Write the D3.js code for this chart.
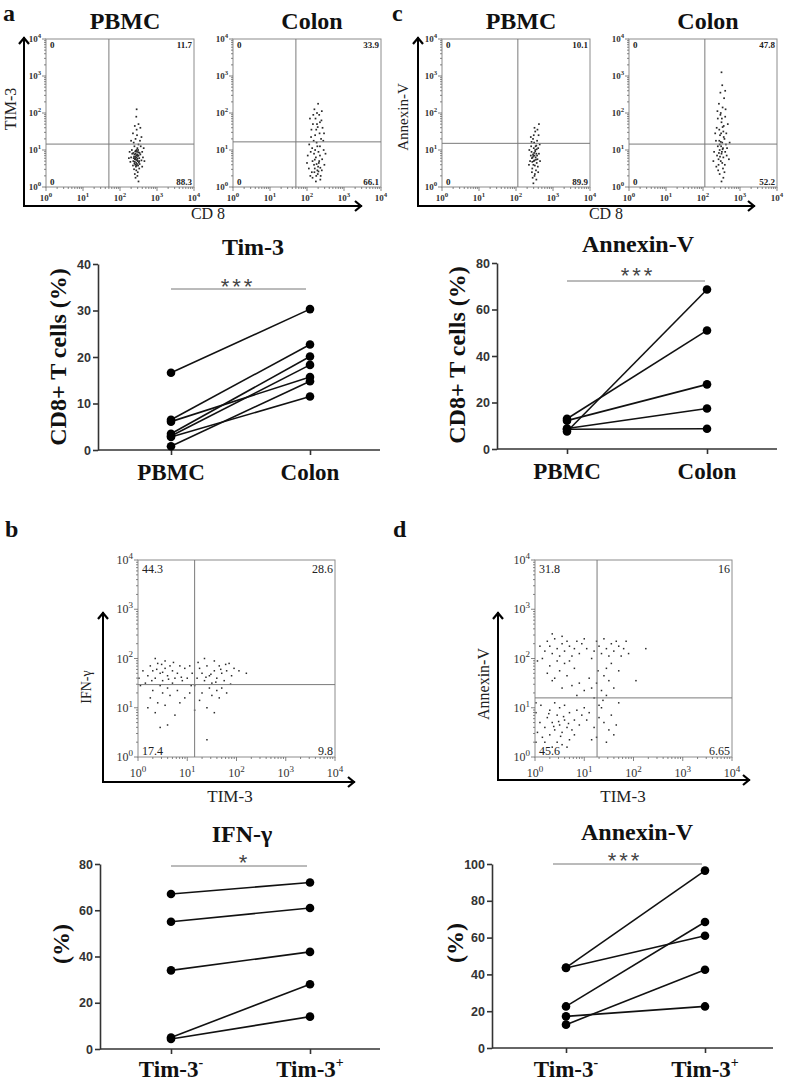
<!DOCTYPE html>
<html><head><meta charset="utf-8">
<script src="https://cdn.jsdelivr.net/npm/d3@7"></script>
<style>body{margin:0;background:#fff}svg{display:block}</style>
</head><body>
<svg id="fig" width="787" height="1081"></svg>
<script>
// ---------------- DATA ----------------
const flowExps = [0, 1, 2, 3, 4];

// flow events, in log10 units [x, y]
const eventsA_PBMC = [[2.45,0.80],[2.40,0.75],[2.50,0.85],[2.42,0.90],[2.48,0.70],[2.38,0.82],[2.52,0.78],[2.44,0.65],[2.46,0.95],[2.36,0.70],[2.55,0.88],[2.41,0.60],[2.49,1.00],[2.33,0.90],[2.58,0.72],[2.43,0.55],[2.47,1.05],[2.39,1.10],[2.53,0.62],[2.35,0.58],[2.60,0.95],[2.30,0.80],[2.44,0.45],[2.50,1.15],[2.37,1.20],[2.56,1.10],[2.42,1.30],[2.48,0.40],[2.32,1.00],[2.62,0.80],[2.28,0.68],[2.46,1.40],[2.40,0.35],[2.54,1.25],[2.45,1.55],[2.35,1.45],[2.58,1.35],[2.52,0.50],[2.38,0.48],[2.64,1.05],[2.26,0.95],[2.50,1.70],[2.42,0.25],[2.47,0.30],[2.60,0.55],[2.30,1.25],[2.55,1.60],[2.40,1.65],[2.44,1.90],[2.66,0.70],[2.24,0.78],[2.50,0.15],[2.45,2.10],[2.36,0.92],[2.48,0.84],[2.43,0.74],[2.51,0.66],[2.39,0.88],[2.46,0.62],[2.41,0.96],[2.44,0.86],[2.47,0.76],[2.40,0.68],[2.53,0.92],[2.37,0.78],[2.49,0.58],[2.45,1.00],[2.42,0.82],[2.46,0.72],[2.50,0.94],[2.43,0.98],[2.39,0.64],[2.52,0.70],[2.47,0.88],[2.41,0.78],[2.45,0.58]];
const eventsA_Colon = [[2.20,0.40],[2.30,0.55],[2.15,0.70],[2.35,0.85],[2.25,0.30],[2.10,0.95],[2.40,0.45],[2.28,1.10],[2.18,1.25],[2.32,0.65],[2.05,0.50],[2.45,1.00],[2.22,1.40],[2.38,1.30],[2.12,1.55],[2.27,1.70],[2.42,1.60],[2.08,1.85],[2.33,1.95],[2.20,2.10],[2.30,2.25],[2.15,0.25],[2.36,0.20],[2.24,0.80],[2.19,0.60],[2.29,0.35],[2.41,0.75],[2.02,0.85],[2.47,0.60],[2.26,1.20],[2.14,1.05],[2.34,1.45],[2.23,1.85],[2.39,1.80],[2.11,1.35],[2.31,0.95],[2.21,0.50],[2.44,1.25],[2.06,1.15],[2.17,1.95],[2.27,2.00],[2.35,1.10],[2.25,1.55],[2.13,0.40],[2.37,0.30],[2.50,0.90],[2.00,0.65],[2.29,1.62],[2.19,0.90],[2.33,0.70],[2.24,0.15],[2.40,2.05],[2.16,1.70],[2.46,1.45],[2.09,0.30],[2.28,0.45],[2.22,1.00],[2.35,1.75],[2.26,0.62],[2.31,0.42],[2.21,0.74],[2.36,0.52]];
const eventsC_PBMC = [[2.50,0.85],[2.45,0.80],[2.55,0.90],[2.48,0.70],[2.52,1.00],[2.42,0.95],[2.58,0.75],[2.47,0.60],[2.53,1.10],[2.40,0.85],[2.60,1.05],[2.44,0.50],[2.56,0.65],[2.49,1.20],[2.38,0.70],[2.62,0.90],[2.46,1.30],[2.54,0.45],[2.41,1.10],[2.57,1.25],[2.51,0.35],[2.43,0.40],[2.59,0.55],[2.48,1.40],[2.36,1.00],[2.64,1.15],[2.52,1.50],[2.45,0.25],[2.55,0.20],[2.40,1.35],[2.61,1.40],[2.50,1.60],[2.47,0.10],[2.65,0.70],[2.35,0.60],[2.53,0.80],[2.49,0.92],[2.44,0.68],[2.56,1.02],[2.51,0.58],[2.58,1.55],[2.62,1.70],[2.46,0.88],[2.54,0.74],[2.42,1.22],[2.50,0.30],[2.57,0.85],[2.43,0.78],[2.60,0.40],[2.48,1.05],[2.52,0.96],[2.47,0.84],[2.55,1.12],[2.50,0.72]];
const eventsC_Colon = [[2.50,0.90],[2.45,1.00],[2.55,0.80],[2.40,1.10],[2.60,0.95],[2.48,0.70],[2.52,1.20],[2.42,0.60],[2.58,1.30],[2.46,1.40],[2.54,0.50],[2.38,0.85],[2.62,1.15],[2.44,1.55],[2.56,1.65],[2.50,1.75],[2.40,1.85],[2.60,1.90],[2.48,2.00],[2.53,2.15],[2.43,2.25],[2.57,2.40],[2.47,2.55],[2.52,2.75],[2.35,1.25],[2.65,1.05],[2.30,0.95],[2.70,0.75],[2.45,0.35],[2.55,0.25],[2.50,0.15],[2.41,0.45],[2.59,0.60],[2.37,1.60],[2.63,1.45],[2.49,1.10],[2.51,0.95],[2.46,0.82],[2.54,1.05],[2.44,1.25],[2.56,1.35],[2.39,2.05],[2.61,2.10],[2.33,1.45],[2.67,1.70],[2.49,1.45],[2.52,0.65],[2.58,0.40],[2.42,0.75],[2.47,1.95],[2.53,1.62],[2.28,0.70],[2.72,1.20],[2.50,3.10],[2.60,2.60],[2.45,1.15],[2.55,1.50],[2.36,0.55],[2.64,0.85],[2.51,1.85],[2.48,1.22],[2.53,1.02],[2.43,0.92]];
const eventsB = [[0.30,1.75],[0.45,1.70],[0.55,1.80],[0.35,1.60],[0.60,1.65],[0.25,1.85],[0.50,1.55],[0.70,1.75],[0.40,1.90],[0.65,1.85],[0.20,1.65],[0.80,1.70],[0.75,1.60],[0.15,1.50],[0.85,1.85],[0.45,1.45],[0.55,1.95],[0.90,1.55],[0.10,1.75],[0.35,2.00],[0.95,1.80],[0.60,1.40],[0.30,1.35],[0.70,1.50],[0.50,1.30],[0.05,1.45],[0.25,1.20],[0.40,1.10],[0.65,1.25],[0.80,1.35],[0.55,1.05],[0.35,0.90],[0.75,0.85],[0.60,0.65],[0.45,0.60],[0.85,1.10],[0.20,1.00],[0.95,1.20],[0.50,1.72],[0.38,1.78],[0.62,1.58],[0.72,1.92],[0.28,1.55],[0.48,1.88],[0.02,1.60],[0.88,1.62],
  [1.30,1.70],[1.45,1.65],[1.55,1.75],[1.35,1.55],[1.60,1.60],[1.25,1.80],[1.50,1.50],[1.70,1.70],[1.40,1.85],[1.65,1.85],[1.20,1.60],[1.80,1.75],[1.75,1.55],[1.15,1.45],[1.85,1.90],[1.45,1.40],[1.55,1.95],[1.90,1.65],[1.10,1.70],[1.35,2.00],[1.95,1.80],[1.60,1.35],[1.30,1.30],[1.70,1.40],[2.05,1.75],[1.50,1.25],[1.25,1.15],[1.40,1.00],[1.65,1.20],[1.80,1.30],[1.55,0.90],[1.15,0.95],[1.05,1.30],[1.40,0.35],[1.48,1.68],[1.58,1.52],[1.68,1.78],[1.38,1.62],[1.78,1.88],[2.20,1.70],[1.22,1.92],[1.88,1.48],[1.00,1.60],[1.05,1.85],[1.08,1.45]];
const eventsD = [[0.30,2.25],[0.45,2.20],[0.55,2.30],[0.35,2.10],[0.60,2.15],[0.25,2.35],[0.50,2.05],[0.70,2.25],[0.40,2.40],[0.65,2.35],[0.20,2.15],[0.80,2.20],[0.75,2.05],[0.15,2.00],[0.85,2.35],[0.45,1.95],[0.55,2.45],[0.90,2.10],[0.10,2.25],[0.35,2.50],[0.95,2.30],[0.60,1.90],[0.30,1.85],[0.70,1.95],[0.50,1.75],[0.05,1.95],[0.25,1.70],[0.40,1.60],[0.65,1.65],[0.80,1.80],[1.00,2.40],[1.05,2.20],
  [1.30,2.25],[1.45,2.20],[1.55,2.30],[1.35,2.10],[1.60,2.15],[1.25,2.35],[1.50,2.05],[1.70,2.25],[1.40,2.40],[1.65,2.35],[1.20,2.15],[1.80,2.20],[1.75,2.05],[1.85,2.35],[1.55,1.90],[1.90,2.10],[1.15,2.00],[2.25,2.20],[1.45,1.80],[1.70,1.75],
  [1.25,1.50],[1.35,1.35],[1.20,1.20],[1.40,1.65],[1.30,1.05],[1.45,1.25],[1.15,1.40],[1.50,1.55],[1.28,1.75],[1.38,1.15],[0.90,1.50],[1.00,1.35],[0.75,1.45],[1.60,1.40],[1.10,1.60],[1.70,1.10],[2.05,1.55],[0.55,1.40],[0.35,1.55],[0.85,1.25],
  [0.50,0.65],[0.40,0.55],[0.60,0.75],[0.45,0.85],[0.55,0.50],[0.35,0.70],[0.65,0.60],[0.30,0.45],[0.70,0.90],[0.25,0.80],[0.75,0.55],[0.20,0.60],[0.80,0.75],[0.15,0.40],[0.85,0.95],[0.50,1.00],[0.60,1.05],[0.40,1.10],[0.30,0.95],[0.70,0.35],[0.10,0.70],[0.05,0.50],[0.90,0.65],[0.95,0.85],[1.00,1.00],[0.45,0.30],[0.55,0.25],[0.35,0.20],[0.20,0.30],[0.65,0.20],[1.05,0.75],[1.10,0.90],[1.20,0.60],[1.30,0.80],[1.40,0.70],[1.50,0.55],[1.60,0.45],[1.25,0.40],[1.35,1.00],[1.15,0.35],[1.45,0.30],[1.55,0.85],[0.02,0.90],[0.02,1.10],[0.02,0.30],[0.80,0.45],[0.58,0.82],[0.48,0.72],[0.38,0.62],[0.68,0.68],[0.28,0.88],[0.52,0.42],[1.65,0.65],[0.12,1.05]];

// gates [x, y] in log10 units
const gateA_PBMC = [1.7, 1.16];
const gateA_Colon = [1.7, 1.22];
const gateC_PBMC = [2.05, 1.18];
const gateC_Colon = [2.05, 1.16];
const gateB = [1.15, 1.47];
const gateD = [1.26, 1.20];

// quadrant percentages: top-left, top-right, bottom-left, bottom-right
const quadA_PBMC = ["0", "11.7", "0", "88.3"];
const quadA_Colon = ["0", "33.9", "0", "66.1"];
const quadC_PBMC = ["0", "10.1", "0", "89.9"];
const quadC_Colon = ["0", "47.8", "0", "52.2"];
const quadB = ["44.3", "28.6", "17.4", "9.8"];
const quadD = ["31.8", "16", "45.6", "6.65"];

// paired plots
const tissueCats = ["PBMC", "Colon"];
const tim3PBMC = [16.6, 6.5, 6.1, 3.5, 3.0, 2.8, 0.8];
const tim3Colon = [30.3, 22.7, 15.7, 20.1, 18.3, 11.5, 14.8];
const tim3Ticks = [0, 10, 20, 30, 40];

const annexPBMC = [7.5, 13.0, 12.2, 8.8, 8.5];
const annexColon = [68.6, 51.0, 27.8, 17.4, 8.7];
const annexTicks = [0, 20, 40, 60, 80];

const stateCats = ["Tim-3\u207B", "Tim-3\u207A"];
const stateBase = ["Tim-3", "Tim-3"];
const stateSup = ["-", "+"];
const ifnNeg = [67, 55, 34, 5.0, 4.3];
const ifnPos = [72, 61, 42, 28, 14];
const ifnTicks = [0, 20, 40, 60, 80];
const annexNeg = [43.7, 43.5, 22.6, 12.7, 17.2];
const annexPos = [96.4, 61, 68.5, 42.5, 22.6];
const annexTicks2 = [0, 20, 40, 60, 80, 100];

// ---------------- DRAWING ----------------
const svg = d3.select("#fig");
const SERIF = "'Liberation Serif','Times New Roman',serif";
const SANS = "'Liberation Sans',Arial,sans-serif";

function supText(sel, base, sup, supSize, dy) {
  sel.append("tspan").text(base);
  sel.append("tspan").attr("font-size", supSize).attr("dy", dy).text(sup);
}

function flowPlot(o) {
  const g = svg.append("g");
  const x = d3.scaleLog().domain([1, 1e4]).range([o.x0, o.x0 + o.size]);
  const y = d3.scaleLog().domain([1, 1e4]).range([o.y0 + o.size, o.y0]);
  const tv = [];
  for (let e = 0; e < 4; e++) for (let k = 1; k < 10; k++) tv.push(k * Math.pow(10, e));
  tv.push(1e4);
  const isMajor = v => Math.abs(Math.log10(v) - Math.round(Math.log10(v))) < 1e-9;

  g.append("g").selectAll("rect").data(o.events).join("rect")
    .attr("x", d => x(Math.pow(10, d[0])) - o.dot / 2)
    .attr("y", d => y(Math.pow(10, d[1])) - o.dot / 2)
    .attr("width", o.dot).attr("height", o.dot).attr("fill", "#2a2a2a");

  g.append("rect").attr("x", o.x0).attr("y", o.y0).attr("width", o.size).attr("height", o.size)
    .attr("fill", "none").attr("stroke", "#8c8c8c").attr("stroke-width", 1);

  const gx = x(Math.pow(10, o.gate[0])), gy = y(Math.pow(10, o.gate[1]));
  g.append("line").attr("x1", gx).attr("x2", gx).attr("y1", o.y0).attr("y2", o.y0 + o.size)
    .attr("stroke", "#7a7a7a").attr("stroke-width", 1);
  g.append("line").attr("x1", o.x0).attr("x2", o.x0 + o.size).attr("y1", gy).attr("y2", gy)
    .attr("stroke", "#7a7a7a").attr("stroke-width", 1);

  g.append("g").selectAll("line").data(tv).join("line")
    .attr("x1", o.x0).attr("x2", d => o.x0 - (isMajor(d) ? o.tMaj : o.tMin))
    .attr("y1", d => y(d)).attr("y2", d => y(d))
    .attr("stroke", "#666").attr("stroke-width", 0.8);
  g.append("g").selectAll("line").data(tv).join("line")
    .attr("y1", o.y0 + o.size).attr("y2", d => o.y0 + o.size + (isMajor(d) ? o.tMaj : o.tMin))
    .attr("x1", d => x(d)).attr("x2", d => x(d))
    .attr("stroke", "#666").attr("stroke-width", 0.8);

  flowExps.forEach(e => {
    const v = Math.pow(10, e);
    const ty = g.append("text").attr("x", o.x0 - o.yGap).attr("y", y(v) + o.fs * 0.35)
      .attr("text-anchor", "end").attr("font-family", SERIF).attr("font-size", o.fs)
      .attr("font-weight", o.fw).attr("fill", "#333");
    supText(ty, "10", String(e), o.fs * 0.75, -o.fs * 0.45);
    const tx = g.append("text").attr("x", x(v)).attr("y", o.y0 + o.size + o.xGap)
      .attr("text-anchor", "middle").attr("font-family", SERIF).attr("font-size", o.fs)
      .attr("font-weight", o.fw).attr("fill", "#333");
    supText(tx, "10", String(e), o.fs * 0.75, -o.fs * 0.45);
  });

  const qpos = [
    [o.x0 + 4, o.y0 + o.qTop, "start"], [o.x0 + o.size - 2, o.y0 + o.qTop, "end"],
    [o.x0 + 4, o.y0 + o.size - 2, "start"], [o.x0 + o.size - 2, o.y0 + o.size - 2, "end"]
  ];
  o.quads.forEach((q, i) => {
    g.append("text").attr("x", qpos[i][0]).attr("y", qpos[i][1]).attr("text-anchor", qpos[i][2])
      .attr("font-family", SERIF).attr("font-size", o.qfs).attr("font-weight", o.qfw)
      .attr("fill", "#222").text(q);
  });

  if (o.title) {
    g.append("text").attr("x", o.x0 + o.size / 2 + 5).attr("y", 29).attr("text-anchor", "middle")
      .attr("font-family", SERIF).attr("font-size", 24).attr("font-weight", "bold").attr("fill", "#111")
      .text(o.title);
  }
}

function arrowAxes(ax, ay, topY, rightX, xLabel, xLabX, xLabY, xfs, yLabel, yLabX, yLabY, yfs, fw) {
  const p = d3.path();
  p.moveTo(ax, topY); p.lineTo(ax, ay); p.lineTo(rightX, ay);
  svg.append("path").attr("d", p.toString()).attr("fill", "none").attr("stroke", "#000").attr("stroke-width", 2);
  const h1 = d3.path();
  h1.moveTo(ax - 5, topY + 7); h1.lineTo(ax, topY + 1); h1.lineTo(ax + 5, topY + 7);
  svg.append("path").attr("d", h1.toString()).attr("fill", "none").attr("stroke", "#000").attr("stroke-width", 2.2);
  const h2 = d3.path();
  h2.moveTo(rightX - 7, ay - 5); h2.lineTo(rightX - 1, ay); h2.lineTo(rightX - 7, ay + 5);
  svg.append("path").attr("d", h2.toString()).attr("fill", "none").attr("stroke", "#000").attr("stroke-width", 2.2);
  svg.append("text").attr("x", xLabX).attr("y", xLabY).attr("text-anchor", "middle")
    .attr("font-family", SERIF).attr("font-size", xfs).attr("font-weight", fw).attr("fill", "#222").text(xLabel);
  svg.append("text").attr("transform", `translate(${yLabX},${yLabY}) rotate(-90)`)
    .attr("text-anchor", "middle").attr("dy", "0.35em")
    .attr("font-family", SERIF).attr("font-size", yfs).attr("font-weight", fw).attr("fill", "#222").text(yLabel);
}

function pairedPlot(o) {
  const g = svg.append("g");
  const y = d3.scaleLinear().domain([0, d3.max(o.ticks)]).range(o.yRange);
  const x = d3.scalePoint().domain(o.cats).range(o.catX);
  const ya = d3.axisLeft(y).tickValues(o.ticks).tickSize(5).tickSizeOuter(0).tickPadding(2);
  const ag = g.append("g").attr("transform", `translate(${o.xAxis[0]},0)`).call(ya);
  ag.select(".domain").attr("stroke", "#333").attr("stroke-width", 1.6);
  ag.selectAll(".tick line").attr("stroke", "#333").attr("stroke-width", 1.6);
  ag.selectAll(".tick text").attr("font-family", SANS).attr("font-size", 12.5)
    .attr("font-weight", "bold").attr("fill", "#333");
  const xa = d3.axisBottom(x).tickSize(5).tickSizeOuter(0).tickFormat("");
  const xg = g.append("g").attr("transform", `translate(0,${o.yRange[0]})`).call(xa);
  xg.select(".domain").remove();
  xg.selectAll(".tick line").attr("stroke", "#333").attr("stroke-width", 1.6);
  g.append("line").attr("x1", o.xAxis[0]).attr("x2", o.xAxis[1]).attr("y1", o.yRange[0]).attr("y2", o.yRange[0])
    .attr("stroke", "#333").attr("stroke-width", 1.6);

  const pairs = o.before.map((b, i) => [b, o.after[i]]);
  g.append("g").selectAll("line").data(pairs).join("line")
    .attr("x1", x(o.cats[0])).attr("x2", x(o.cats[1]))
    .attr("y1", d => y(d[0])).attr("y2", d => y(d[1]))
    .attr("stroke", "#111").attr("stroke-width", 1.6);
  g.append("g").selectAll("circle").data(o.before).join("circle")
    .attr("cx", x(o.cats[0])).attr("cy", d => y(d)).attr("r", 4.3).attr("fill", "#000");
  g.append("g").selectAll("circle").data(o.after).join("circle")
    .attr("cx", x(o.cats[1])).attr("cy", d => y(d)).attr("r", 4.3).attr("fill", "#000");

  g.append("line").attr("x1", x(o.cats[0]) + o.sig[0]).attr("x2", x(o.cats[1]) + o.sig[1])
    .attr("y1", o.sigY).attr("y2", o.sigY).attr("stroke", "#777").attr("stroke-width", 1);
  g.append("text").attr("x", o.starX).attr("y", o.starBase).attr("text-anchor", "middle")
    .attr("font-family", SANS).attr("font-size", 22).attr("letter-spacing", o.star.length > 1 ? 3 : 0)
    .attr("fill", "#444").text(o.star);

  g.append("text").attr("x", o.titleX).attr("y", o.titleBase).attr("text-anchor", "middle")
    .attr("font-family", SERIF).attr("font-size", 24).attr("font-weight", "bold").attr("fill", "#111").text(o.title);

  g.append("text").attr("transform", `translate(${o.yTitleX},${o.yTitleY}) rotate(-90)`)
    .attr("text-anchor", "middle").attr("dy", "0.35em")
    .attr("font-family", SERIF).attr("font-size", 24).attr("font-weight", "bold").attr("fill", "#111").text(o.yTitle);

  o.cats.forEach((c, i) => {
    const t = g.append("text").attr("x", x(c)).attr("y", o.catBase).attr("text-anchor", "middle")
      .attr("font-family", SERIF).attr("font-size", 23).attr("font-weight", "bold").attr("fill", "#111");
    if (o.base) supText(t, o.base[i], o.sup[i], 14, -10);
    else t.text(c);
  });
}

// panel letters
[["a", 3, 21], ["c", 392, 21], ["b", 5, 537], ["d", 393, 537]].forEach(l => {
  svg.append("text").attr("x", l[1]).attr("y", l[2]).attr("font-family", SERIF)
    .attr("font-size", 24).attr("font-weight", "bold").attr("fill", "#111").text(l[0]);
});

const smallFlow = { size: 148, y0: 39, tMaj: 4, tMin: 2, fs: 9, fw: "bold", yGap: 5, xGap: 14, qTop: 9, qfs: 9, qfw: "bold", dot: 1.7 };
const bigFlow = { size: 197, y0: 560, tMaj: 4, tMin: 2, fs: 12, fw: "normal", yGap: 5, xGap: 20, qTop: 13, qfs: 12, qfw: "normal", dot: 1.5 };

flowPlot(Object.assign({}, smallFlow, { x0: 46, events: eventsA_PBMC, gate: gateA_PBMC, quads: quadA_PBMC, title: "PBMC" }));
flowPlot(Object.assign({}, smallFlow, { x0: 233, events: eventsA_Colon, gate: gateA_Colon, quads: quadA_Colon, title: "Colon" }));
flowPlot(Object.assign({}, smallFlow, { x0: 442, events: eventsC_PBMC, gate: gateC_PBMC, quads: quadC_PBMC, title: "PBMC" }));
flowPlot(Object.assign({}, smallFlow, { x0: 629, events: eventsC_Colon, gate: gateC_Colon, quads: quadC_Colon, title: "Colon" }));
flowPlot(Object.assign({}, bigFlow, { x0: 138, events: eventsB, gate: gateB, quads: quadB }));
flowPlot(Object.assign({}, bigFlow, { x0: 535, events: eventsD, gate: gateD, quads: quadD }));

arrowAxes(24, 206, 37, 362, "CD 8", 208, 219, 16, "TIM-3", 10, 109, 16, "normal");
arrowAxes(418, 206, 37, 755, "CD 8", 606, 219, 16, "Annexin-V", 403, 117, 15, "normal");
arrowAxes(103, 782, 612, 355, "TIM-3", 230, 802, 17, "IFN-\u03B3", 86, 687, 14, "normal");
arrowAxes(498, 780, 612, 750, "TIM-3", 623, 802, 17, "Annexin-V", 483, 684, 16, "normal");

pairedPlot({ cats: tissueCats, before: tim3PBMC, after: tim3Colon, ticks: tim3Ticks,
  xAxis: [98, 380], yRange: [450, 264], catX: [171, 310],
  title: "Tim-3", titleX: 253, titleBase: 255, star: "***", starX: 238, starBase: 294, sigY: 289, sig: [0, -4],
  yTitle: "CD8+ T cells (%)", yTitleX: 58, yTitleY: 357, catBase: 480 });
pairedPlot({ cats: tissueCats, before: annexPBMC, after: annexColon, ticks: annexTicks,
  xAxis: [497, 777], yRange: [449, 263], catX: [567, 707],
  title: "Annexin-V", titleX: 638, titleBase: 252, star: "***", starX: 638, starBase: 283, sigY: 281, sig: [0, -2],
  yTitle: "CD8+ T cells (%)", yTitleX: 457, yTitleY: 355, catBase: 479 });
pairedPlot({ cats: stateCats, base: stateBase, sup: stateSup, before: ifnNeg, after: ifnPos, ticks: ifnTicks,
  xAxis: [100, 380], yRange: [1049, 864], catX: [171, 310],
  title: "IFN-\u03B3", titleX: 242, titleBase: 842, star: "*", starX: 243, starBase: 870, sigY: 866, sig: [0, -3],
  yTitle: "(%)", yTitleX: 61, yTitleY: 944, catBase: 1077 });
pairedPlot({ cats: stateCats, base: stateBase, sup: stateSup, before: annexNeg, after: annexPos, ticks: annexTicks2,
  xAxis: [492, 773], yRange: [1048, 864], catX: [566, 705],
  title: "Annexin-V", titleX: 637, titleBase: 840, star: "***", starX: 625, starBase: 868, sigY: 864, sig: [-13, -3],
  yTitle: "(%)", yTitleX: 455, yTitleY: 943, catBase: 1077 });
</script>
</body></html>
